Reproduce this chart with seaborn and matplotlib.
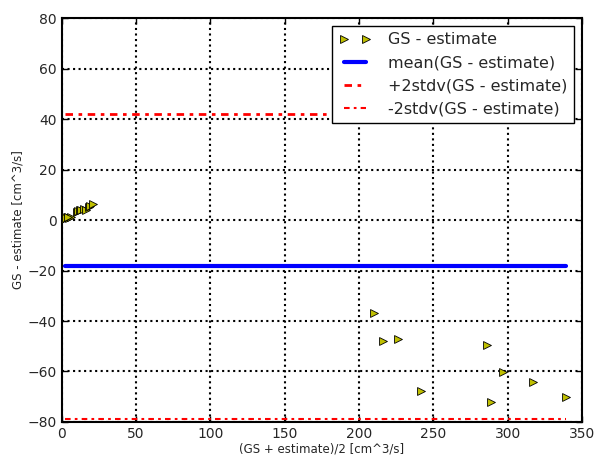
import matplotlib
matplotlib.use("Agg")
import matplotlib.pyplot as plt
import seaborn as sns
import pandas as pd
from matplotlib.lines import Line2D

# data: mean of pair vs difference
avg_vals = [2, 3, 4, 5, 6, 3, 4, 10, 11, 12, 13, 15, 16, 18, 19, 21,
            210, 216, 226, 286, 297, 317, 339, 242, 289]
diff_vals = [0.5, 1.0, 1.0, 0.8, 1.2, 0.7, 1.3, 3.0, 3.5, 4.0, 3.8, 4.5, 4.0, 5.0, 5.5, 6.5,
             -36.8, -47.9, -47.1, -49.5, -60.2, -64.0, -70.0, -67.7, -72.0]
mean_diff = -18.4
plus2 = 42.0
minus2 = -78.8
x_range = [2, 339]

labels = ["GS - estimate", "mean(GS - estimate)", "+2stdv(GS - estimate)", "-2stdv(GS - estimate)"]
x_ticks = [0, 50, 100, 150, 200, 250, 300, 350]
y_ticks = [-80, -60, -40, -20, 0, 20, 40, 60, 80]

sns.set_theme(style="white")
plt.rcParams['font.family'] = ['DejaVu Sans']
plt.rcParams['xtick.direction'] = 'in'
plt.rcParams['ytick.direction'] = 'in'

dashdot = (0, (2.7, 2.0, 1.3, 2.0))

fig = plt.figure(figsize=(6, 4.68), dpi=100)
ax = fig.add_axes([0.103, 0.0983, 0.867, 0.8632])

df = pd.DataFrame({"x": avg_vals, "y": diff_vals})
sns.scatterplot(data=df, x="x", y="y", marker=">", s=32, color="#bfbf00",
                edgecolor="black", linewidth=0.6, ax=ax, zorder=3)

line_df = pd.DataFrame({"x": x_range, "m": [mean_diff] * 2, "p": [plus2] * 2, "n": [minus2] * 2})
sns.lineplot(data=line_df, x="x", y="m", color="blue", linewidth=3, ax=ax, zorder=2)
sns.lineplot(data=line_df, x="x", y="p", color="red", linewidth=2, linestyle=dashdot, ax=ax, zorder=2)
sns.lineplot(data=line_df, x="x", y="n", color="red", linewidth=1.5, linestyle=dashdot, ax=ax, zorder=2)

ax.set_xlim(0, 350)
ax.set_ylim(-80, 80)
ax.set_xticks(x_ticks)
ax.set_yticks(y_ticks)
ax.tick_params(axis='both', labelsize=10, length=4, width=1, color='black',
               top=True, right=True, bottom=True, left=True)
ax.grid(True, color='black', linestyle=':', linewidth=1.5)
for s in ax.spines.values():
    s.set_color('black')
    s.set_linewidth(1.5)

ax.set_xlabel("(GS + estimate)/2 [cm^3/s]", fontsize=8.5, labelpad=1)
ax.set_ylabel("GS - estimate [cm^3/s]", fontsize=8.5, labelpad=2)

handles = [
    Line2D([], [], marker=">", linestyle="", color="#bfbf00", markeredgecolor="black",
           markeredgewidth=0.6, markersize=5.5),
    Line2D([], [], color="blue", linewidth=3),
    Line2D([], [], color="red", linewidth=2, linestyle=dashdot),
    Line2D([], [], color="red", linewidth=1.5, linestyle=dashdot),
]
leg = ax.legend(handles, labels, loc="upper right", numpoints=2, fontsize=11.5,
                fancybox=False, framealpha=1, edgecolor="black", borderaxespad=0.5,
                handlelength=2.0, handletextpad=1.1, labelspacing=0.5, borderpad=0.4)
leg.get_frame().set_linewidth(1)

fig.savefig("out.png", dpi=100)
